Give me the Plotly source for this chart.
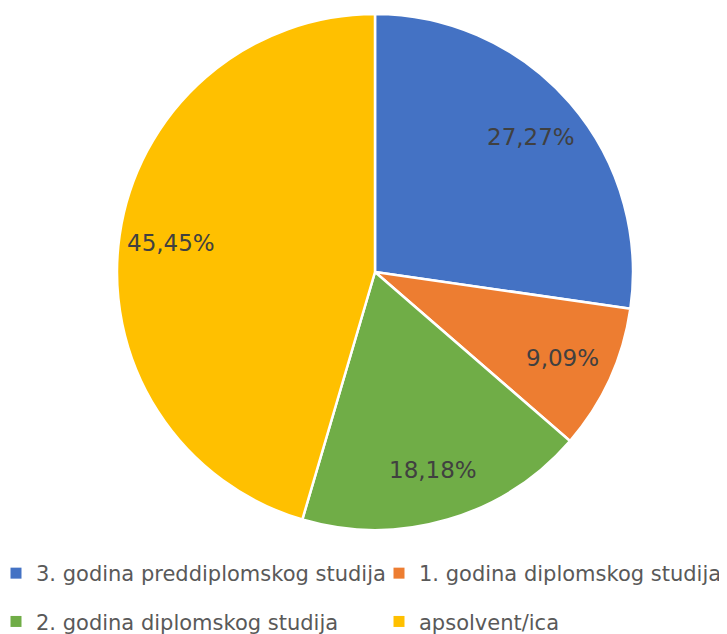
import numpy as np
import plotly.graph_objects as go

labels = ["3. godina preddiplomskog studija", "1. godina diplomskog studija",
          "2. godina diplomskog studija", "apsolvent/ica"]
values = [3, 1, 2, 5]
colors = ["#4472C4", "#ED7D31", "#70AD47", "#FFC000"]
# legend column for each category (Excel lays them out in a 2x2 grid)
legend_col = ["legend", "legend2", "legend", "legend2"]

W, H = 727, 634
OFF = 8  # the page body adds an 8px margin around the figure
cx, cy, r = 375 - OFF, 272 - OFF, 258  # pie centre and radius in figure pixels

fig = go.Figure()
fig.add_trace(go.Pie(
    labels=labels, values=values,
    sort=False, direction="clockwise", rotation=0,
    marker=dict(colors=colors, line=dict(color="white", width=2.5)),
    textinfo="none", showlegend=False,
    domain=dict(x=[(cx - r) / W, (cx + r) / W],
                y=[1 - (cy + r) / H, 1 - (cy - r) / H]),
))

# percentage labels at ~80% of the radius, on each slice's mid angle
total = sum(values)
start = 0
for v in values:
    theta = 2 * np.pi * (start + v / 2) / total
    start += v
    fig.add_annotation(
        x=(cx + 0.8 * r * np.sin(theta)) / W,
        y=1 - (cy - 0.8 * r * np.cos(theta)) / H,
        xref="paper", yref="paper", xanchor="center", yanchor="middle",
        showarrow=False,
        text=f"{100 * v / total:.2f}%".replace(".", ","),
        font=dict(family="DejaVu Sans", size=23, color="#404040"),
    )

# legend entries
for lab, col, leg in zip(labels, colors, legend_col):
    fig.add_trace(go.Scatter(
        x=[None], y=[None], mode="markers", name=lab, legend=leg, legendgroup=lab,
        marker=dict(symbol="square", size=11, color=col),
    ))

legend_font = dict(family="DejaVu Sans", size=21, color="#595959")
fig.update_layout(
    width=W, height=H,
    margin=dict(l=0, r=0, t=0, b=0),
    paper_bgcolor="white", plot_bgcolor="white",
    xaxis=dict(visible=False), yaxis=dict(visible=False),
    legend=dict(x=0.0, y=0.0, xanchor="left", yanchor="bottom", indentation=-12,
                tracegroupgap=18, font=legend_font, bgcolor="rgba(0,0,0,0)"),
    legend2=dict(x=383 / W, y=0.0, xanchor="left", yanchor="bottom", indentation=-12,
                 tracegroupgap=18, font=legend_font, bgcolor="rgba(0,0,0,0)"),
)

fig.write_html("out.html")
